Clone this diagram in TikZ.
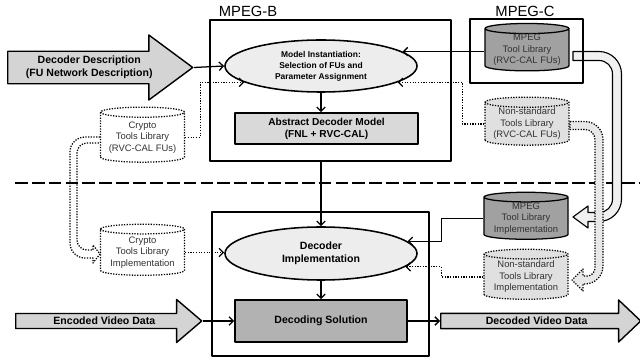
\documentclass[tikz,border=0pt]{standalone}
\usepackage{fontspec}
\setmainfont{Liberation Sans}
\usetikzlibrary{shapes.geometric,shapes.arrows,arrows.meta}

\begin{document}
\begin{tikzpicture}[x=0.025cm,y=-0.025cm,line join=round,
    grp/.style={font=\fontsize{10.5}{12}\selectfont},
    frame/.style={draw,line width=1.1pt,inner sep=0pt},
    oval/.style={ellipse,draw,line width=1.1pt,fill=black!7,minimum width=4.8cm,minimum height=1.3cm,inner sep=0pt,align=center},
    block/.style={draw,line width=1.1pt,inner sep=0pt,align=center,font=\bfseries\fontsize{7.2}{8.6}\selectfont},
    cyl/.style={cylinder,shape border rotate=90,aspect=0.15,draw,line width=0.9pt,minimum width=2.1cm,inner sep=0pt,align=center,text=black!80,font=\fontsize{6.7}{8.2}\selectfont},
    dots/.style={densely dotted,line width=0.9pt},
    conn/.style={line width=0.9pt,-{Straight Barb[length=3pt,width=6pt]}},
    bigarr/.style={single arrow,draw,line width=1pt,fill=black!17,inner sep=0pt,align=center,anchor=tail,font=\bfseries\fontsize{7.5}{9}\selectfont},
    pipe/.style={line width=0.8pt,fill=black!6}]
  \useasboundingbox (0,0) rectangle (640,360);

  % MPEG-B / MPEG-C part
  \node[grp] (labB) at (248,11) {MPEG-B};
  \node[grp] (labC) at (525,11) {MPEG-C};
  \node[frame,minimum width=6.025cm,minimum height=3.525cm] (boxB) at (330.5,90.5) {};
  \node[oval,font=\bfseries\fontsize{6}{7.8}\selectfont] (inst) at (321,66) {Model Instantiation:\\Selection of FUs and\\Parameter Assignment};
  \node[block,fill=black!15,minimum width=4.575cm,minimum height=0.775cm] (adm) at (326.5,128.5) {Abstract Decoder Model\\(FNL + RVC-CAL)};
  \node[bigarr,minimum height=4.625cm,minimum width=1.625cm,single arrow head extend=0.3cm,single arrow tip angle=73] (desc) at (7,67.5) {Decoder Description\\(FU Network Description)};
  \node[cyl,dots,fill=white,minimum height=1.375cm] (cr1) at (142.5,137.5) {Crypto\\Tools Library\\(RVC-CAL FUs)};
  \node[cyl,dots,fill=black!12,minimum height=1.2cm] (ns1) at (527,124) {Non-standard\\Tools Library\\(RVC-CAL FUs)};

  \draw[line width=1.8pt,dash pattern=on 9pt off 3pt] (15,183) -- (640,183);

  % pipe from MPEG-C down to the implementations
  \draw[pipe] (573,51.5) -- (599,51.5) .. controls (611.4,51.5) and (621.5,61.6) .. (621.5,74) -- (621.5,199) .. controls (621.5,211.4) and (611.4,221.5) .. (599,221.5) -- (588,221.5) -- (588,228) -- (573,217) -- (588,206) -- (588,212.5) -- (599,212.5) .. controls (606.5,212.5) and (612.5,206.5) .. (612.5,199) -- (612.5,74) .. controls (612.5,66.5) and (606.5,60.5) .. (599,60.5) -- (573,60.5) -- cycle;
  \node[frame,minimum width=2.825cm,minimum height=1.6cm] (boxC) at (526.5,51) {};
  \node[cyl,fill=black!37,minimum height=1.15cm] (lib) at (527,50) {MPEG\\Tool Library\\(RVC-CAL FUs)};

  % implementation part
  \node[frame,minimum width=5.425cm,minimum height=3.6cm] (boxL) at (320.5,284) {};
  \node[oval,minimum height=1.325cm,font=\bfseries\fontsize{7.5}{9}\selectfont] (impl) at (321,253.5) {Decoder\\Implementation};
  \node[block,fill=black!30,minimum width=4.3cm,minimum height=1.05cm,font=\bfseries\fontsize{7.5}{9}\selectfont] (sol) at (321,321) {Decoding Solution};
  \node[cyl,fill=black!37,minimum height=1.175cm] (mi) at (526,218.5) {MPEG\\Tool Library\\Implementation};
  \node[cyl,dots,fill=black!12,minimum height=1.25cm] (ns2) at (526,277) {Non-standard\\Tools Library\\Implementation};
  \node[cyl,dots,fill=white,minimum height=1.275cm] (cr2) at (142.5,252.5) {Crypto\\Tools Library\\Implementation};
  \node[bigarr,minimum height=4.65cm,minimum width=1.075cm,single arrow head extend=0.2125cm,single arrow tip angle=81] (enc) at (15,321) {Encoded Video Data};
  \node[bigarr,minimum height=5cm,minimum width=1.05cm,single arrow head extend=0.2cm,single arrow tip angle=87] (dec) at (440,321) {Decoded Video Data};

  % dotted pipes
  \draw[dots,fill=black!9] (570,121.5) -- (585,121.5) .. controls (594.9,121.5) and (603,129.6) .. (603,139.5) -- (603,266) .. controls (603,275.9) and (594.9,284) .. (585,284) -- (583,284) -- (583,291) -- (572,280) -- (583,269) -- (583,276) -- (587,276) .. controls (591.4,276) and (595,272.4) .. (595,268) -- (595,139.5) .. controls (595,134) and (590.5,129.5) .. (585,129.5) -- (570,129.5) -- cycle;
  \draw[dots] (100,137) -- (85,137) .. controls (76.7,137) and (70,143.7) .. (70,152) -- (70,243) .. controls (70,251.3) and (76.7,258) .. (85,258) -- (93,258) -- (93,263) -- (100,254) -- (93,245) -- (93,250) -- (87,250) .. controls (81.5,250) and (77,245.5) .. (77,240) -- (77,153) .. controls (77,147.5) and (81.5,143) .. (87,143) -- (100,143);

  % connectors
  \draw[conn] (desc.tip) -- (inst.west);
  \draw[conn] (lib.west |- inst.10) -- (inst.10);
  \draw[conn,dots] (ns1.west) -- ++(-22,0) |- (inst.-12);
  \draw[conn,dots] (cr1.east) -- ++(15,0) |- (inst.192);
  \draw[conn] (inst.south) -- (inst.south |- adm.north);
  \draw[conn] (boxB.south -| impl.north) -- (impl.north);
  \draw[conn] (mi.west) -- ++(-42,0) |- (impl.8);
  \draw[conn,dots] (ns2.west) -- ++(-42,0) |- (impl.-9);
  \draw[conn,dots] (cr2.east) -- (cr2.east -| impl.west);
  \draw[conn] (impl.south) -- (impl.south |- sol.north);
  \draw[conn] (enc.tip) -- (sol.west);
  \draw[conn] (sol.east) -- (dec.tail);
\end{tikzpicture}
\end{document}
